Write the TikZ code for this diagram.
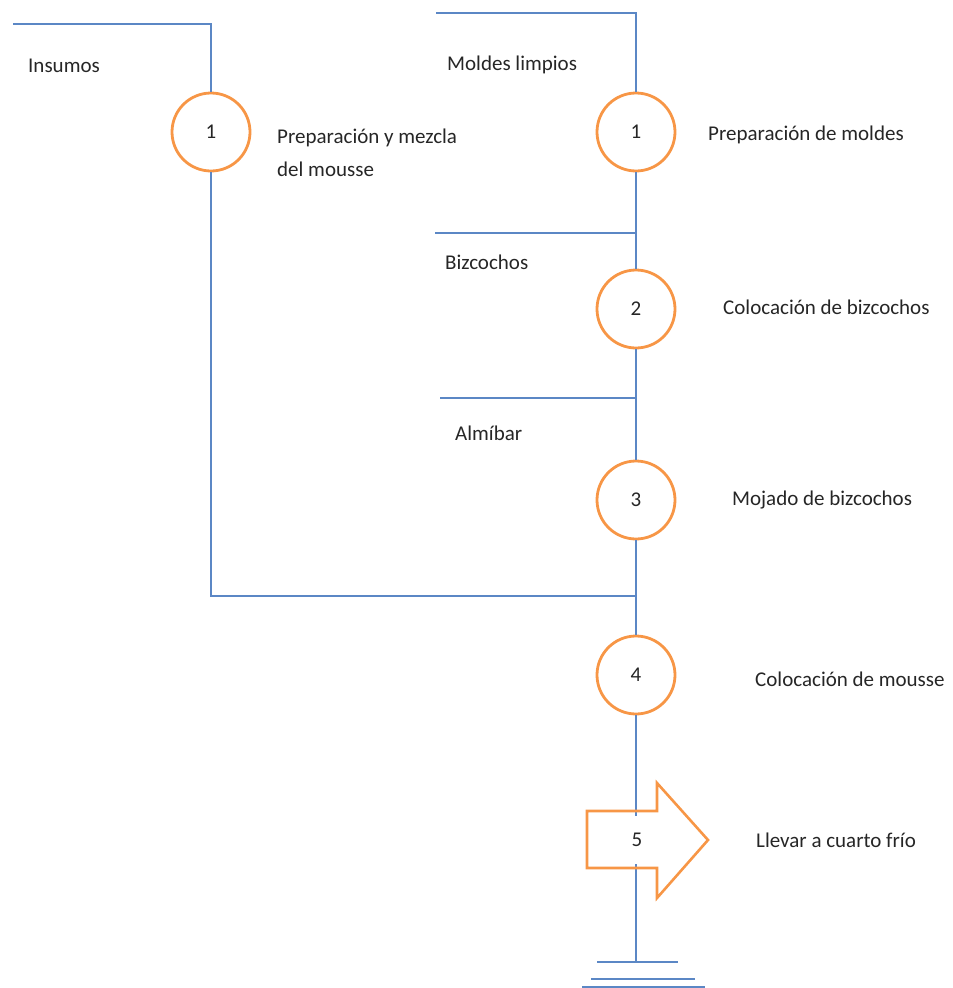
\documentclass[tikz,border=0pt]{standalone}
\usepackage{fontspec}
\setmainfont{Carlito}
\definecolor{flowblue}{HTML}{5B87C5}
\definecolor{oporange}{HTML}{F79646}
\definecolor{txtgray}{HTML}{262626}
\begin{document}
\begin{tikzpicture}[x=1pt,y=-1pt,
  flow/.style={draw=flowblue, line width=2pt},
  op/.style={circle, draw=oporange, line width=2.8pt, minimum size=78pt,
    inner sep=0pt, text=txtgray, font=\fontsize{21}{25}\selectfont},
  lbl/.style={anchor=west, inner sep=0pt, text=txtgray, align=left,
    font=\fontsize{21}{33}\selectfont}]
\useasboundingbox (0,0) rectangle (953,988);

% operations
\node[op] (m1) at (211,132) {1};
\node[op] (p1) at (636,132) {1};
\node[op] (p2) at (636,309) {2};
\node[op] (p3) at (636,500) {3};
\node[op] (p4) at (636,675) {4};

% feed lines and junctions
\coordinate (insA) at (13,24);
\coordinate (insB) at (211,24);
\coordinate (molA) at (436,13);
\coordinate (molB) at (636,13);
\coordinate (bizA) at (435,233);
\coordinate (almA) at (440,398);
\coordinate (ret) at (211,596);
\coordinate (gnd) at (636,962);

\draw[flow] (insA) -- (insB) -- (insB |- m1.north);
\draw[flow] (molA) -- (molB) -- (molB |- p1.north);
\draw[flow] (p1.south) -- (p2.north);
\draw[flow] (bizA) -- (bizA -| p1.south);
\draw[flow] (p2.south) -- (p3.north);
\draw[flow] (almA) -- (almA -| p2.south);
\draw[flow] (p3.south) -- (p4.north);
\draw[flow] (m1.south) -- (m1.south |- ret) -- (ret -| p4.north);
\draw[flow] (p4.south) -- (gnd);

% ground mark
\draw[flow] (597,962) -- (678,962);
\draw[flow] (591,979) -- (695,979);
\draw[flow] (582,987) -- (705,987);

% transport step
\draw[draw=oporange, line width=2.6pt, line join=miter]
  (587,811) -- (657,811) -- (657,783) -- (708,840) -- (657,898)
  -- (657,868) -- (587,868) -- cycle;
\node[fill=white, inner sep=0pt, minimum width=18pt, minimum height=48pt,
  text=txtgray, font=\fontsize{21}{25}\selectfont] (t5) at (637,840) {5};

% labels
\node[lbl] (lins) at (28,66) {Insumos};
\node[lbl] (lmol) at (447,65) {Moldes limpios};
\node[lbl] (lbiz) at (445,262) {Bizcochos};
\node[lbl] (lalm) at (455,433) {Almíbar};
\node[lbl] (dm1) at (277,153) {Preparación y mezcla\\del mousse};
\node[lbl] (dp1) at (708,135) {Preparación de moldes};
\node[lbl] (dp2) at (723,307) {Colocación de bizcochos};
\node[lbl] (dp3) at (732,500) {Mojado de bizcochos};
\node[lbl] (dp4) at (755,679) {Colocación de mousse};
\node[lbl] (dt5) at (756,840) {Llevar a cuarto frío};
\end{tikzpicture}
\end{document}
